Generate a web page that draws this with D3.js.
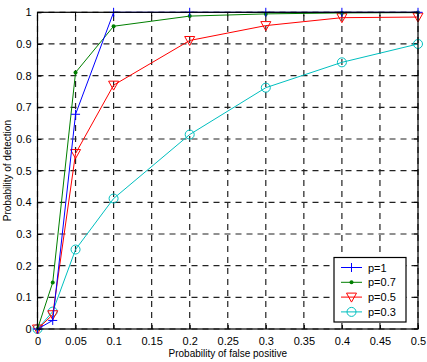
<!DOCTYPE html>
<html>
<head>
<meta charset="utf-8">
<script src="https://cdn.jsdelivr.net/npm/d3@7"></script>
<style>
body { margin: 0; background: #fff; }
svg { display: block; font-family: "Liberation Sans", Arial, sans-serif; }
</style>
</head>
<body>
<div id="chart"></div>
<script>
var width = 427;
var height = 362;
var margin = {left: 37.5, right: 9, top: 12.3, bottom: 33};

var xValues = [0, 0.02, 0.05, 0.1, 0.2, 0.3, 0.4, 0.5];
var seriesNames = ["p=1", "p=0.7", "p=0.5", "p=0.3"];
var p1 = [0, 0.027, 0.678, 1.0, 1.0, 1.0, 1.0, 1.0];
var p07 = [0, 0.147, 0.81, 0.956, 0.988, 0.995, 0.998, 0.999];
var p05 = [0, 0.045, 0.554, 0.77, 0.911, 0.958, 0.983, 0.985];
var p03 = [0, 0.055, 0.251, 0.412, 0.614, 0.762, 0.842, 0.9];
var xTicks = [0, 0.05, 0.1, 0.15, 0.2, 0.25, 0.3, 0.35, 0.4, 0.45, 0.5];
var yTicks = [0, 0.1, 0.2, 0.3, 0.4, 0.5, 0.6, 0.7, 0.8, 0.9, 1];

var colors = ["#0000ff", "#007f00", "#ff0000", "#00bfbf"];
var markers = ["plus", "dot", "tri", "circle"];
var allSeries = [p1, p07, p05, p03];

var x = d3.scaleLinear().domain([0, 0.5]).range([margin.left, width - margin.right]);
var y = d3.scaleLinear().domain([0, 1]).range([height - margin.bottom, margin.top]);

var svg = d3.select("#chart").append("svg")
	.attr("width", width)
	.attr("height", height);

svg.append("rect").attr("width", width).attr("height", height).attr("fill", "white");

// grid
var grid = svg.append("g");
grid.selectAll(".gx").data(xTicks).enter().append("line")
	.attr("x1", d => x(d)).attr("x2", d => x(d))
	.attr("y1", y(0)).attr("y2", y(1))
	.attr("stroke", "#222").attr("stroke-width", 1.2).attr("stroke-dasharray", "6,5");
grid.selectAll(".gy").data(yTicks).enter().append("line")
	.attr("y1", d => y(d)).attr("y2", d => y(d))
	.attr("x1", x(0)).attr("x2", x(0.5))
	.attr("stroke", "#222").attr("stroke-width", 1.2).attr("stroke-dasharray", "6,5");

// axes
var xAxis = d3.axisBottom(x).tickValues(xTicks).tickSizeInner(-4).tickSizeOuter(0).tickPadding(8)
	.tickFormat(d => d3.format("")(d));
var yAxis = d3.axisLeft(y).tickValues(yTicks).tickSizeInner(-4).tickSizeOuter(0).tickPadding(6)
	.tickFormat(d => d3.format("")(d));

var gx = svg.append("g").attr("transform", "translate(0," + y(0) + ")").call(xAxis);
var gy = svg.append("g").attr("transform", "translate(" + x(0) + ",0)").call(yAxis);
[gx, gy].forEach(function(g) {
	g.select(".domain").remove();
	g.selectAll("text").attr("fill", "#000").style("font-size", "11px");
	g.selectAll("line").attr("stroke", "#000");
});

// top/right ticks
svg.append("g").selectAll("line").data(xTicks).enter().append("line")
	.attr("x1", d => x(d)).attr("x2", d => x(d))
	.attr("y1", y(1)).attr("y2", y(1) + 4).attr("stroke", "#000");
svg.append("g").selectAll("line").data(yTicks).enter().append("line")
	.attr("y1", d => y(d)).attr("y2", d => y(d))
	.attr("x1", x(0.5)).attr("x2", x(0.5) - 4).attr("stroke", "#000");

// lines
var line = d3.line().x((d, i) => x(xValues[i])).y(d => y(d));

function drawMarker(g, type, color, cx, cy) {
	if (type == "plus") {
		g.append("path").attr("d", "M" + (cx - 4.5) + "," + cy + "H" + (cx + 4.5) + "M" + cx + "," + (cy - 4.5) + "V" + (cy + 4.5))
			.attr("stroke", color).attr("stroke-width", 1).attr("fill", "none");
	} else if (type == "dot") {
		g.append("circle").attr("cx", cx).attr("cy", cy).attr("r", 2).attr("fill", color);
	} else if (type == "tri") {
		g.append("path").attr("d", "M" + (cx - 5) + "," + (cy - 4) + "L" + (cx + 5) + "," + (cy - 4) + "L" + cx + "," + (cy + 5) + "Z")
			.attr("stroke", color).attr("stroke-width", 1).attr("fill", "none");
	} else {
		g.append("circle").attr("cx", cx).attr("cy", cy).attr("r", 4.5)
			.attr("stroke", color).attr("stroke-width", 1).attr("fill", "none");
	}
}

for (var s = allSeries.length - 1; s >= 0; s--) {
	var g = svg.append("g");
	g.append("path").datum(allSeries[s]).attr("d", line)
		.attr("fill", "none").attr("stroke", colors[s]).attr("stroke-width", 1);
	for (var i = 0; i < xValues.length; i++) {
		drawMarker(g, markers[s], colors[s], x(xValues[i]), y(allSeries[s][i]));
	}
}

// box
svg.append("rect")
	.attr("x", x(0)).attr("y", y(1))
	.attr("width", x(0.5) - x(0)).attr("height", y(0) - y(1))
	.attr("fill", "none").attr("stroke", "#000").attr("stroke-width", 1.2);

// axis titles
svg.append("text").text("Probability of false positive")
	.attr("x", (x(0) + x(0.5)) / 2).attr("y", 357)
	.attr("text-anchor", "middle").style("font-size", "10px");
svg.append("text").text("Probability of detection")
	.attr("transform", "translate(11," + (y(0) + y(1)) / 2 + ") rotate(-90)")
	.attr("text-anchor", "middle").style("font-size", "10px");

// legend
var lx = 334, ly = 257.5;
var legend = svg.append("g");
legend.append("rect").attr("x", lx).attr("y", ly).attr("width", 72).attr("height", 64.5)
	.attr("fill", "white").attr("stroke", "#000").attr("stroke-width", 1.2);
seriesNames.forEach(function(name, k) {
	var yy = ly + 10 + k * 14.8;
	legend.append("line").attr("x1", lx + 7).attr("x2", lx + 28).attr("y1", yy).attr("y2", yy)
		.attr("stroke", colors[k]).attr("stroke-width", 1);
	drawMarker(legend, markers[k], colors[k], lx + 17.5, yy);
	legend.append("text").text(name).attr("x", lx + 34).attr("y", yy + 4)
		.style("font-size", "11px");
});
</script>
</body>
</html>
